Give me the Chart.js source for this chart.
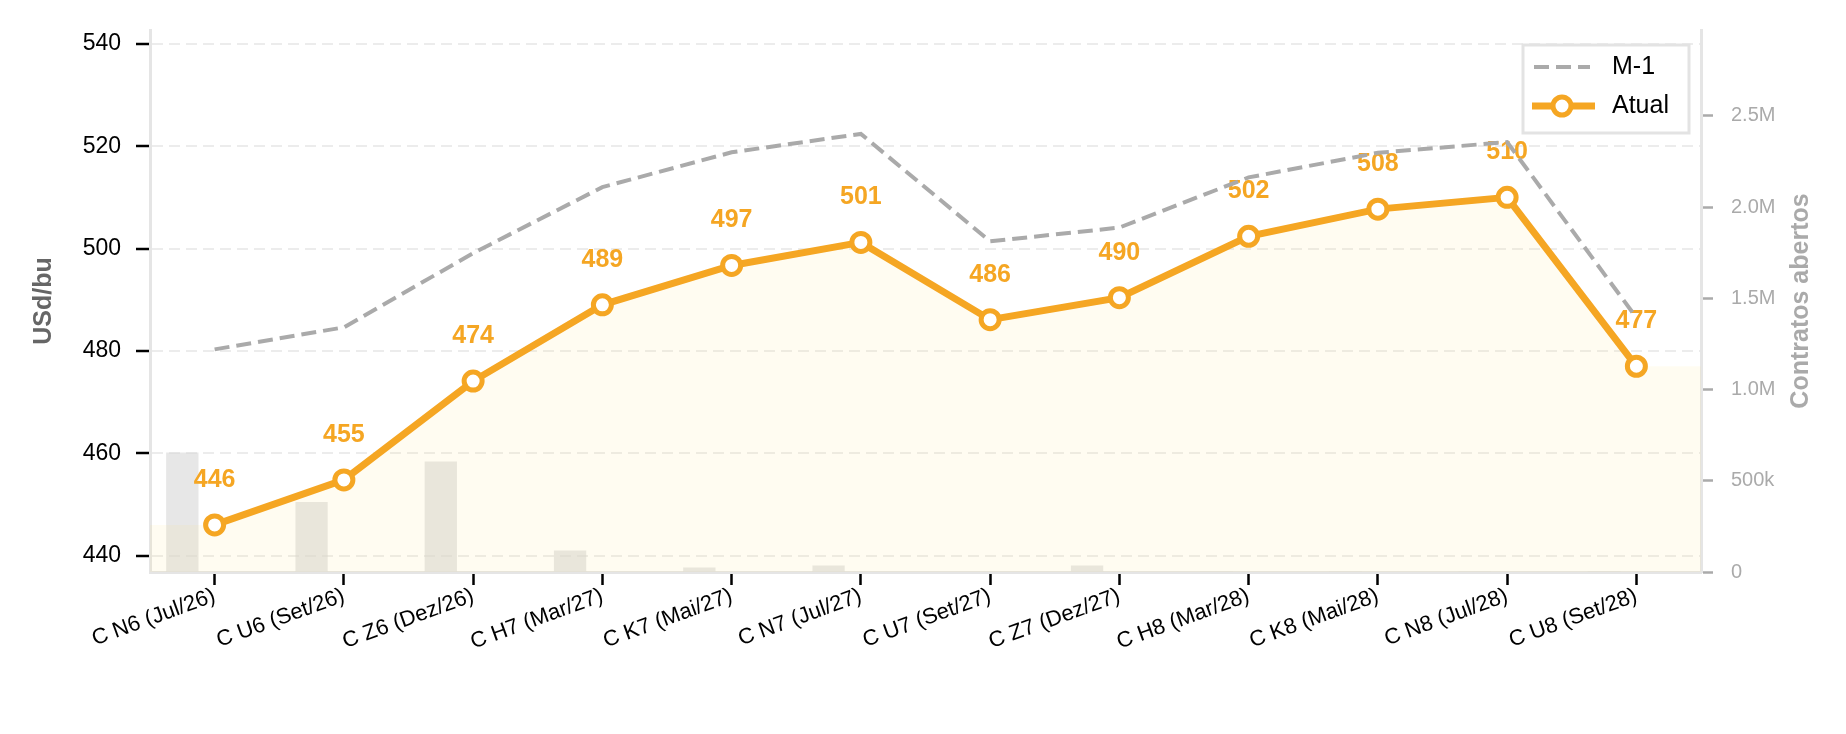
<!DOCTYPE html>
<html>
<head>
<meta charset="utf-8">
<script src="https://cdn.jsdelivr.net/npm/chart.js@4.4.1/dist/chart.umd.min.js"></script>
<style>
  html, body { margin: 0; padding: 0; background: #fff; }
  #wrap { width: 1846px; height: 734px; position: relative; }
</style>
</head>
<body>
<div id="wrap"><canvas id="curvaChart" width="1846" height="734"></canvas></div>
<script>
const contratos = ['C N6 (Jul/26)', 'C U6 (Set/26)', 'C Z6 (Dez/26)', 'C H7 (Mar/27)', 'C K7 (Mai/27)', 'C N7 (Jul/27)',
                   'C U7 (Set/27)', 'C Z7 (Dez/27)', 'C H8 (Mar/28)', 'C K8 (Mai/28)', 'C N8 (Jul/28)', 'C U8 (Set/28)'];
const atual = [446.0, 454.8, 474.1, 489.0, 496.7, 501.2, 486.1, 490.4, 502.4, 507.7, 510.0, 477.0];
const m1 = [480.3, 484.6, 499.1, 512.0, 518.8, 522.4, 501.4, 504.1, 513.9, 518.7, 520.8, 486.5];
const contratosAbertos = [655000, 384000, 605000, 118000, 24000, 35000, 3000, 35000, 2000, 1500, 1000, 500];
const precoTicks = [440, 460, 480, 500, 520, 540];
const oiTicks = [0, 500000, 1000000, 1500000, 2000000, 2500000];

const laranja = '#F5A623';
const cinza = '#aaaaaa';
const fonte = '"Liberation Sans", Arial, sans-serif';

// area under the current curve, stretched flat to both plot edges
const areaAtual = [{x: -0.5, y: atual[0]}]
    .concat(atual.map((v, i) => ({x: i, y: v})))
    .concat([{x: atual.length - 0.5, y: atual[atual.length - 1]}]);

function fmtOI(v) {
    if (v === 0) return '0';
    if (v < 1000000) return Math.round(v / 1000) + 'k';
    return (v / 1000000).toFixed(1) + 'M';
}

// value labels above the orange points (drawn right after the area)
const rotulosPlugin = {
    id: 'rotulos',
    afterDatasetDraw(chart, args) {
        if (args.index !== 2) return;
        const ctx = chart.ctx;
        const meta = chart.getDatasetMeta(0);
        ctx.save();
        ctx.font = 'bold 25px ' + fonte;
        ctx.fillStyle = laranja;
        ctx.textAlign = 'center';
        ctx.textBaseline = 'middle';
        meta.data.forEach((pt, i) => {
            ctx.fillText(Math.round(atual[i]).toString(), pt.x, pt.y - 45);
        });
        ctx.restore();
    }
};

// right axis title (reads bottom to top) and boxed legend
const extrasPlugin = {
    id: 'extras',
    afterDraw(chart) {
        const {ctx, chartArea} = chart;
        ctx.save();
        ctx.translate(1801, (chartArea.top + chartArea.bottom) / 2);
        ctx.rotate(-Math.PI / 2);
        ctx.font = 'bold 25px ' + fonte;
        ctx.fillStyle = cinza;
        ctx.textAlign = 'center';
        ctx.textBaseline = 'middle';
        ctx.fillText('Contratos abertos', 0, 0);
        ctx.restore();

        const w = 166, h = 88;
        const x0 = chartArea.right - 12 - w, y0 = chartArea.top + 15;
        ctx.save();
        ctx.fillStyle = '#ffffff';
        ctx.fillRect(x0, y0, w, h);
        ctx.strokeStyle = '#e3e3e3';
        ctx.lineWidth = 3;
        ctx.strokeRect(x0, y0, w, h);

        const ds = chart.data.datasets;
        // M-1 sample
        ctx.strokeStyle = cinza;
        ctx.lineWidth = 4;
        ctx.setLineDash([15, 7]);
        ctx.beginPath();
        ctx.moveTo(x0 + 11, y0 + 22);
        ctx.lineTo(x0 + 67, y0 + 22);
        ctx.stroke();
        ctx.setLineDash([]);
        // Atual sample
        ctx.strokeStyle = laranja;
        ctx.lineWidth = 7;
        ctx.beginPath();
        ctx.moveTo(x0 + 9, y0 + 61);
        ctx.lineTo(x0 + 72, y0 + 61);
        ctx.stroke();
        ctx.beginPath();
        ctx.arc(x0 + 39, y0 + 61, 9, 0, Math.PI * 2);
        ctx.fillStyle = '#ffffff';
        ctx.fill();
        ctx.lineWidth = 5;
        ctx.stroke();

        ctx.font = '25px ' + fonte;
        ctx.fillStyle = '#000';
        ctx.textAlign = 'left';
        ctx.textBaseline = 'middle';
        ctx.fillText(ds[1].label, x0 + 89, y0 + 22);
        ctx.fillText(ds[0].label, x0 + 89, y0 + 61);
        ctx.restore();
    }
};

const ctx = document.getElementById('curvaChart').getContext('2d');
const curvaChart = new Chart(ctx, {
    type: 'line',
    data: {
        labels: contratos,
        datasets: [{
            label: 'Atual',
            data: atual,
            borderColor: laranja,
            borderWidth: 7,
            pointBackgroundColor: '#ffffff',
            pointBorderColor: laranja,
            pointBorderWidth: 5,
            pointRadius: 9,
            tension: 0,
            fill: false,
            order: 0
        }, {
            label: 'M-1',
            data: m1,
            borderColor: cinza,
            borderWidth: 4,
            borderDash: [15, 7],
            pointRadius: 0,
            tension: 0,
            fill: false,
            order: 1
        }, {
            label: 'area',
            data: areaAtual,
            xAxisID: 'xf',
            borderWidth: 0,
            pointRadius: 0,
            backgroundColor: 'rgba(255, 225, 120, 0.1)',
            fill: 'start',
            order: 2
        }, {
            type: 'bar',
            label: 'Contratos abertos',
            data: contratosAbertos,
            yAxisID: 'y2',
            backgroundColor: 'rgba(215, 215, 215, 0.6)',
            barPercentage: 0.5,
            categoryPercentage: 1,
            order: 3
        }]
    },
    options: {
        responsive: false,
        animation: false,
        layout: { padding: { top: 26, left: 0, right: 0, bottom: 0 } },
        scales: {
            x: {
                type: 'category',
                offset: true,
                afterFit: (s) => { s.height = 162; },
                border: { color: '#e5e5e5', width: 3 },
                grid: { display: true, drawOnChartArea: false, offset: false, tickLength: 13, tickWidth: 2.5, tickColor: '#000' },
                ticks: { color: '#000', font: { family: fonte, size: 22 }, minRotation: 20, maxRotation: 20, autoSkip: false, padding: -2 }
            },
            xf: {
                type: 'linear',
                display: false,
                min: -0.5,
                max: contratos.length - 0.5
            },
            y: {
                position: 'left',
                min: 436.8,
                max: 542.7,
                afterFit: (s) => { s.width = 150; },
                afterBuildTicks: (s) => { s.ticks = precoTicks.map(v => ({value: v})); },
                border: { color: '#e5e5e5', width: 3, dash: [11, 6] },
                grid: { color: '#ececec', lineWidth: 2, tickLength: 14, tickWidth: 2.5, tickColor: '#000', tickBorderDash: [] },
                ticks: { color: '#000', font: { family: fonte, size: 23 }, padding: 15 },
                title: { display: true, text: 'USd/bu', color: '#666', font: { family: fonte, size: 25, weight: 'bold' }, padding: { top: 29 } }
            },
            y2: {
                position: 'right',
                min: 0,
                max: 2970000,
                afterFit: (s) => { s.width = 145; },
                afterBuildTicks: (s) => { s.ticks = oiTicks.map(v => ({value: v})); },
                border: { color: '#e5e5e5', width: 3 },
                grid: { drawOnChartArea: false, tickLength: 12, tickWidth: 2.5, tickColor: cinza },
                ticks: { color: cinza, font: { family: fonte, size: 20 }, padding: 18, callback: (v) => fmtOI(v) }
            }
        },
        plugins: {
            legend: { display: false },
            tooltip: { enabled: false }
        }
    },
    plugins: [rotulosPlugin, extrasPlugin]
});
</script>
</body>
</html>
